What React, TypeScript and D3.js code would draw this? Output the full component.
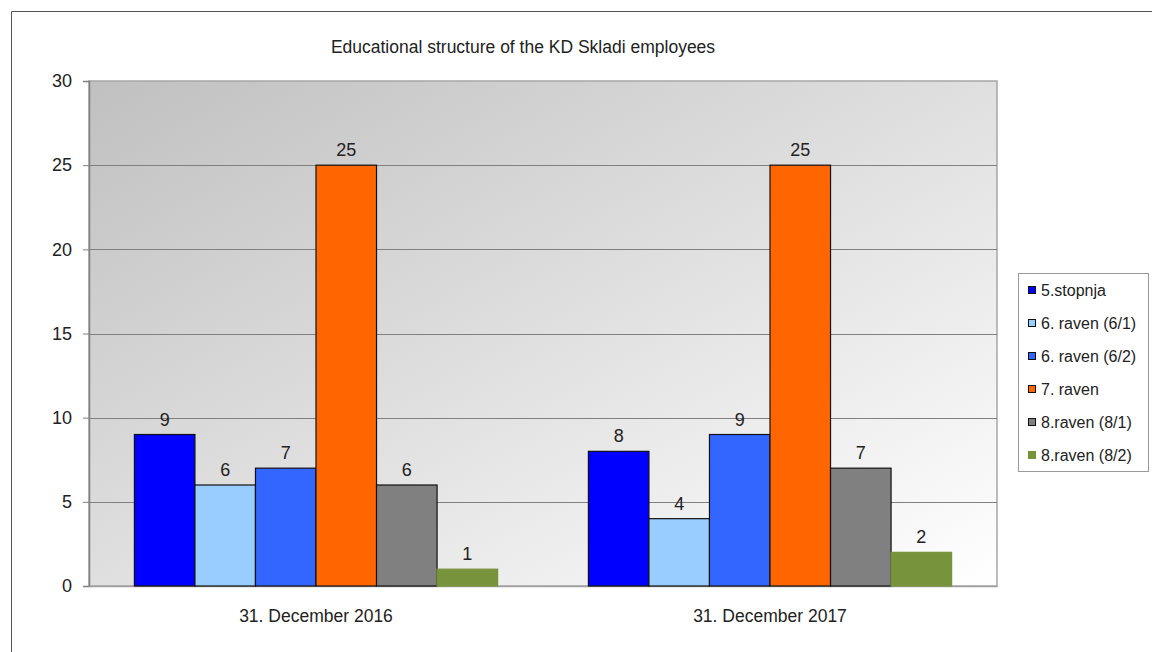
import { useEffect, useRef } from 'react';
import * as d3 from 'd3';

const categories = ['31. December 2016', '31. December 2017'];
const seriesNames = ['5.stopnja', '6. raven (6/1)', '6. raven (6/2)', '7. raven', '8.raven (8/1)', '8.raven (8/2)'];
const seriesColors = ['#0000FF', '#99CCFF', '#3366FF', '#FF6600', '#808080', '#77933C'];
const values2016 = [9, 6, 7, 25, 6, 1];
const values2017 = [8, 4, 9, 25, 7, 2];
const yTicks = [0, 5, 10, 15, 20, 25, 30];

export default function App() {
  const svgRef = useRef<SVGSVGElement>(null);

  useEffect(() => {
    if (!svgRef.current) return;
    const width = 1152;
    const height = 652;
    const svg = d3.select(svgRef.current);
    svg.selectAll('*').remove();
    svg.attr('width', width).attr('height', height);

    const font = 'Liberation Sans, Arial, sans-serif';
    const plot = { left: 89, top: 81, right: 997, bottom: 586 };

    // outer chart frame (open on right/bottom like the crop)
    svg.append('path')
      .attr('d', `M11.5,${height} V11.5 H${width}`)
      .attr('fill', 'none')
      .attr('stroke', '#555')
      .attr('stroke-width', 1);

    const defs = svg.append('defs');
    const grad = defs.append('linearGradient')
      .attr('id', 'plotBg')
      .attr('x1', 0).attr('y1', 0).attr('x2', 1).attr('y2', 1);
    grad.append('stop').attr('offset', '0%').attr('stop-color', '#c0c0c0');
    grad.append('stop').attr('offset', '100%').attr('stop-color', '#ffffff');

    const xScale = d3.scaleBand<string>()
      .domain(categories)
      .range([plot.left, plot.right])
      .padding(0);

    const yScale = d3.scaleLinear()
      .domain([0, 30])
      .range([plot.bottom, plot.top]);

    const inner = d3.scaleBand<string>()
      .domain(seriesNames)
      .range([xScale.bandwidth() * 0.1, xScale.bandwidth() * 0.9])
      .padding(0);

    svg.append('rect')
      .attr('x', plot.left)
      .attr('y', plot.top)
      .attr('width', plot.right - plot.left)
      .attr('height', plot.bottom - plot.top)
      .attr('fill', 'url(#plotBg)')
      .attr('stroke', '#a6a6a6')
      .attr('stroke-width', 1.5);

    // gridlines
    svg.append('g')
      .selectAll('line')
      .data(yTicks.filter(t => t > 0 && t < 30))
      .enter().append('line')
      .attr('x1', plot.left)
      .attr('x2', plot.right)
      .attr('y1', d => Math.round(yScale(d)) + 0.5)
      .attr('y2', d => Math.round(yScale(d)) + 0.5)
      .attr('stroke', '#808080')
      .attr('stroke-width', 1);

    // y axis
    const yAxis = svg.append('g')
      .attr('transform', `translate(${plot.left},0)`)
      .call(d3.axisLeft(yScale).tickValues(yTicks).tickSize(6).tickPadding(11));
    yAxis.select('.domain').attr('stroke', '#808080').attr('stroke-width', 1.5);
    yAxis.selectAll('.tick line').attr('stroke', '#808080');
    yAxis.selectAll('text')
      .attr('font-family', font)
      .attr('font-size', 18)
      .attr('fill', '#222');

    // x axis
    const xAxis = svg.append('g')
      .attr('transform', `translate(0,${plot.bottom})`)
      .call(d3.axisBottom(xScale).tickSize(0).tickPadding(24));
    xAxis.select('.domain').attr('stroke', '#a0a0a0').attr('stroke-width', 1.5);
    xAxis.selectAll('text')
      .attr('font-family', font)
      .attr('font-size', 17.5)
      .attr('fill', '#222');

    const rows = [values2016, values2017];
    const bars = svg.append('g');
    categories.forEach((cat, ci) => {
      const g = bars.append('g').attr('transform', `translate(${xScale(cat)},0)`);
      const data = rows[ci].map((v, i) => ({ name: seriesNames[i], value: v, color: seriesColors[i], idx: i }));
      g.selectAll('rect')
        .data(data)
        .enter().append('rect')
        .attr('x', d => inner(d.name) || 0)
        .attr('y', d => yScale(d.value))
        .attr('width', inner.bandwidth())
        .attr('height', d => yScale(0) - yScale(d.value))
        .attr('fill', d => d.color)
        .attr('stroke', d => d.idx === 5 ? d.color : '#111')
        .attr('stroke-width', 1.2);
      g.selectAll('text')
        .data(data)
        .enter().append('text')
        .attr('x', d => (inner(d.name) || 0) + inner.bandwidth() / 2)
        .attr('y', d => yScale(d.value) - 9)
        .attr('text-anchor', 'middle')
        .attr('font-family', font)
        .attr('font-size', 18)
        .attr('fill', '#222')
        .text(d => d.value);
    });

    // title
    svg.append('text')
      .attr('x', 523)
      .attr('y', 53)
      .attr('text-anchor', 'middle')
      .attr('font-family', font)
      .attr('font-size', 17.5)
      .attr('fill', '#222')
      .text('Educational structure of the KD Skladi employees');

    // legend
    const legend = svg.append('g');
    legend.append('rect')
      .attr('x', 1018.5)
      .attr('y', 273.5)
      .attr('width', 130)
      .attr('height', 198)
      .attr('fill', '#fff')
      .attr('stroke', '#999');
    const item = legend.selectAll('g.item')
      .data(seriesNames)
      .enter().append('g')
      .attr('class', 'item')
      .attr('transform', (_, i) => `translate(1028,${290 + i * 33})`);
    item.append('rect')
      .attr('x', 0.5)
      .attr('y', -3.5)
      .attr('width', 7)
      .attr('height', 7)
      .attr('fill', (_, i) => seriesColors[i])
      .attr('stroke', (_, i) => i === 5 ? seriesColors[i] : '#111');
    item.append('text')
      .attr('x', 13)
      .attr('y', 0)
      .attr('dy', '0.35em')
      .attr('font-family', font)
      .attr('font-size', 16)
      .attr('fill', '#222')
      .text(d => d);
  }, []);

  return (
    <div style={{ position: 'absolute', left: 0, top: 0 }}>
      <svg ref={svgRef} style={{ display: 'block', background: '#fff' }} />
    </div>
  );
}
